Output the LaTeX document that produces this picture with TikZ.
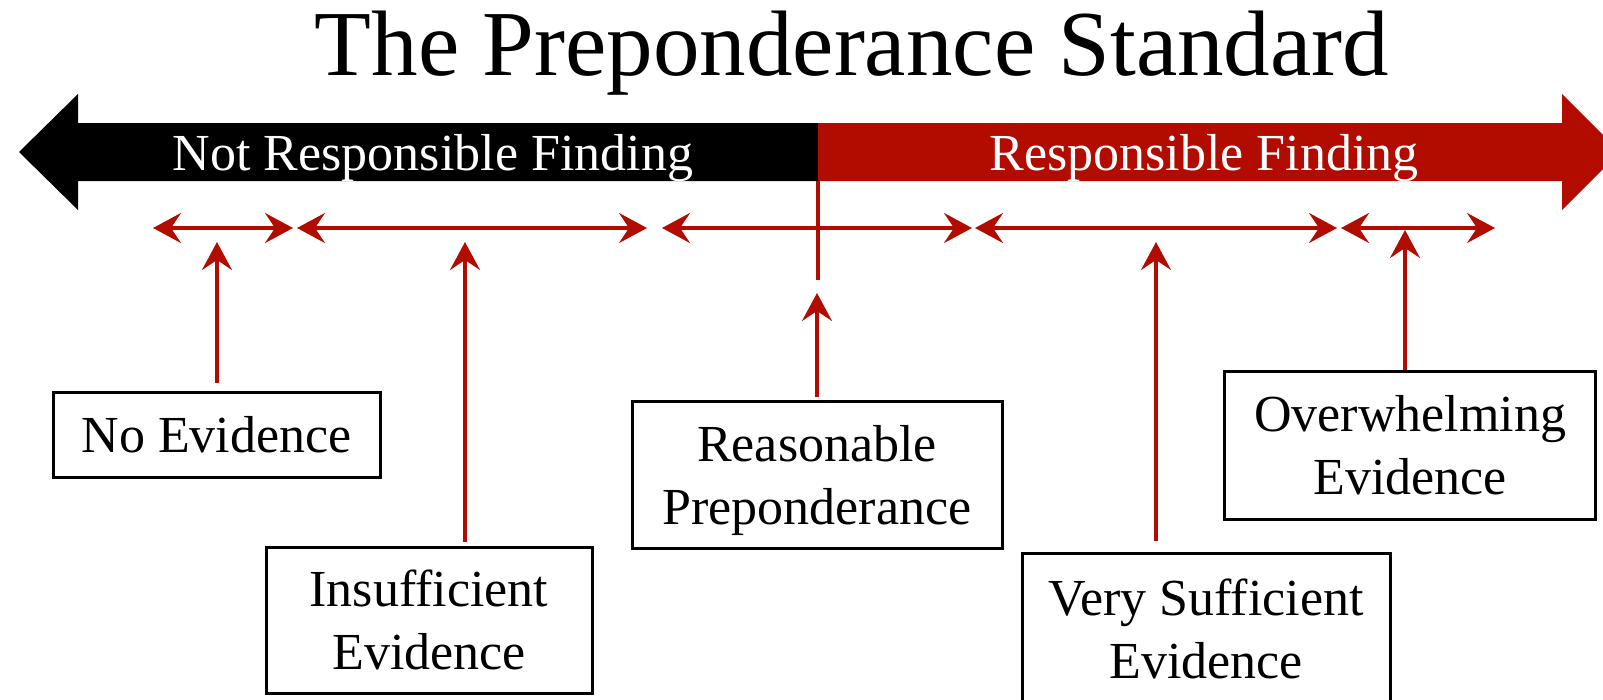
\documentclass[tikz,border=0pt]{standalone}
\usepackage{fontspec}
\setmainfont{Liberation Serif}
\usetikzlibrary{arrows.meta}
\definecolor{verdict}{RGB}{178,12,0}

\begin{document}
\begin{tikzpicture}[
  x=1pt, y=-1pt,
  evbox/.style={
    draw,
    line width=3pt,
    inner sep=0pt,
    align=center,
    text depth=0pt,
    font=\fontsize{52}{63}\selectfont,
  },
  banner/.style={anchor=base, text=white, font=\fontsize{52}{63}\selectfont},
  scalebar/.style={{Stealth[length=28pt,width=30pt,inset=10pt]}-{Stealth[length=28pt,width=30pt,inset=10pt]}, line width=3.5pt, color=verdict},
  upline/.style={-{Stealth[length=28pt,width=30pt,inset=10pt]}, line width=3.5pt, color=verdict},
]
\useasboundingbox (0,0) rectangle (1603,699);

% title
\node[anchor=base, font=\fontsize{93}{100}\selectfont] (title) at (852,75) {The Preponderance Standard};

% finding banner
\fill[black] (818,123) -- (78,123) -- (78,94) -- (19,152) -- (78,210) -- (78,181) -- (818,181) -- cycle;
\fill[verdict] (818,123) -- (1562,123) -- (1562,94) -- (1620,152) -- (1562,210) -- (1562,181) -- (818,181) -- cycle;
\node[banner] (not_resp) at (433,170) {Not Responsible Finding};
\node[banner] (resp) at (1204,170) {Responsible Finding};

% divider below the banner
\coordinate (split_top) at (818,181);
\coordinate (split_end) at (818,280);
\draw[verdict, line width=3.5pt] (split_top) -- (split_end);

% evidence ranges
\coordinate (r1a) at (153,228);
\coordinate (r1b) at (293,228);
\coordinate (r2a) at (297,228);
\coordinate (r2b) at (647,228);
\coordinate (r3a) at (662,228);
\coordinate (r3b) at (972,228);
\coordinate (r4a) at (975,228);
\coordinate (r4b) at (1337,228);
\coordinate (r5a) at (1341,228);
\coordinate (r5b) at (1495,228);
\foreach \r in {1,...,5}
  \draw[scalebar] (r\r a) -- (r\r b);

% evidence boxes
\node[evbox, minimum width=327pt, minimum height=85pt] (noev) at (216.5,434.5) {No Evidence};
\node[evbox, minimum width=326pt, minimum height=146pt] (insuf) at (429,620) {Insufficient\\Evidence};
\node[evbox, minimum width=370pt, minimum height=147pt] (reason) at (817,474.5) {Reasonable\\Preponderance};
\node[evbox, minimum width=368pt, minimum height=151pt] (verysuf) at (1206,628.5) {Very Sufficient\\Evidence};
\node[evbox, minimum width=371pt, minimum height=148pt] (overw) at (1410,445) {Overwhelming\\Evidence};

% pointers
\coordinate (noev_tip) at (217,242);
\coordinate (insuf_tip) at (465,242);
\coordinate (reason_tip) at (817,293);
\coordinate (verysuf_tip) at (1156,242);
\coordinate (overw_tip) at (1405,230);
\draw[upline, shorten <=8pt] (noev.north -| noev_tip) -- (noev_tip);
\draw[upline, shorten <=4pt] (insuf.north -| insuf_tip) -- (insuf_tip);
\draw[upline, shorten <=3pt] (reason.north -| reason_tip) -- (reason_tip);
\draw[upline, shorten <=11pt] (verysuf.north -| verysuf_tip) -- (verysuf_tip);
\draw[upline] (overw.north -| overw_tip) -- (overw_tip);

\end{tikzpicture}
\end{document}
